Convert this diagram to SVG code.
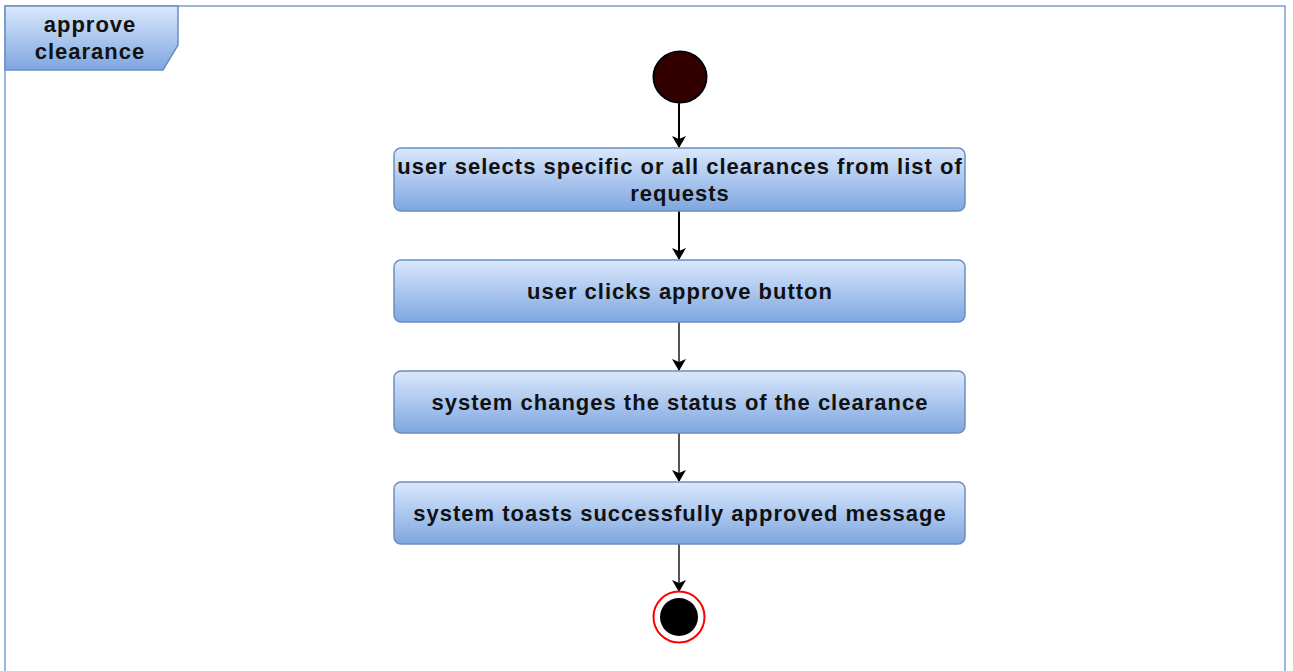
<svg xmlns="http://www.w3.org/2000/svg" width="1293" height="671" viewBox="0 0 1293 671">
  <defs>
    <linearGradient id="boxFill" x1="0" y1="0" x2="0" y2="1">
      <stop offset="0" stop-color="#dae8fc"/>
      <stop offset="1" stop-color="#7ea6e0"/>
    </linearGradient>
    <marker id="arrow" markerWidth="12" markerHeight="14" refX="11" refY="7" orient="auto" markerUnits="userSpaceOnUse">
      <path d="M0,0 L12,7 L0,14 L3,7 Z" fill="#000"/>
    </marker>
  </defs>
  <style>
    .frame { fill: #fff; stroke: #7e9fd0; stroke-width: 1.5; }
    .tab { fill: url(#boxFill); stroke: #6c8ebf; stroke-width: 1.5; }
    .action { fill: url(#boxFill); stroke: #6c8ebf; stroke-width: 1.5; }
    .label { font-family: "Liberation Sans", Arial, sans-serif; font-size: 22px; font-weight: bold; letter-spacing: 1px; fill: #111; text-anchor: middle; }
    .flow { stroke: #000; stroke-width: 2; fill: none; }
    .flow2 { stroke: #555; stroke-width: 2; fill: none; }
  </style>

  <rect width="1293" height="671" fill="#fff"/>

  <!-- activity frame -->
  <g id="frame">
    <rect class="frame" x="5" y="6" width="1280" height="680"/>
    <path class="tab" d="M5,6 H178 V45 L163,70 H5 Z"/>
    <text class="label" x="90" y="32">approve</text>
    <text class="label" x="90" y="59">clearance</text>
  </g>

  <!-- connectors -->
  <g id="connectors">
    <line class="flow" x1="679" y1="103" x2="679" y2="147" marker-end="url(#arrow)"/>
    <line class="flow" x1="679" y1="211" x2="679" y2="259" marker-end="url(#arrow)"/>
    <line class="flow2" x1="679" y1="322" x2="679" y2="370" marker-end="url(#arrow)"/>
    <line class="flow2" x1="679" y1="433" x2="679" y2="481" marker-end="url(#arrow)"/>
    <line class="flow2" x1="679" y1="544" x2="679" y2="591" marker-end="url(#arrow)"/>
  </g>

  <g id="start">
    <ellipse cx="680" cy="77" rx="26.5" ry="25.5" fill="#330000" stroke="#000" stroke-width="2"/>
  </g>

  <g id="select">
    <rect class="action" x="394" y="148" width="571" height="63" rx="7"/>
    <text class="label" x="680" y="174">user selects specific or all clearances from list of</text>
    <text class="label" x="680" y="201">requests</text>
  </g>

  <g id="click">
    <rect class="action" x="394" y="260" width="571" height="62" rx="7"/>
    <text class="label" x="680" y="299">user clicks approve button</text>
  </g>

  <g id="status">
    <rect class="action" x="394" y="371" width="571" height="62" rx="7"/>
    <text class="label" x="680" y="410">system changes the status of the clearance</text>
  </g>

  <g id="toast">
    <rect class="action" x="394" y="482" width="571" height="62" rx="7"/>
    <text class="label" x="680" y="521">system toasts successfully approved message</text>
  </g>

  <g id="end">
    <circle cx="679" cy="617" r="25.5" fill="#fff" stroke="#ff0000" stroke-width="2"/>
    <circle cx="679" cy="617" r="19" fill="#000"/>
  </g>
</svg>
